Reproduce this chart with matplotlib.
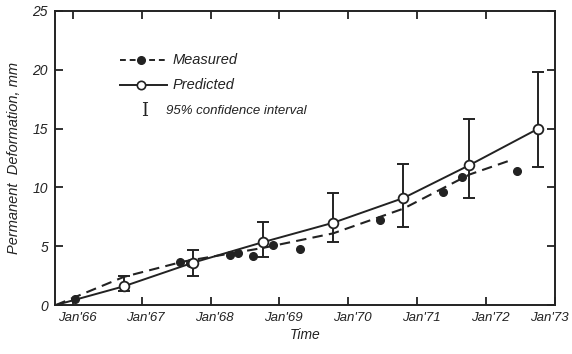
import numpy as np
import matplotlib.pyplot as plt
from matplotlib.transforms import ScaledTranslation

plt.rcParams['font.family'] = ['Liberation Sans', 'DejaVu Sans']

# predicted values (open circles) with 95% confidence limits
pred_t = [1965.75, 1966.74, 1967.74, 1968.76, 1969.78, 1970.80, 1971.76, 1972.76]
pred_y = [0.0, 1.6, 3.6, 5.35, 7.0, 9.1, 11.9, 15.0]
ci_lo = [None, 1.2, 2.5, 4.1, 5.4, 6.6, 9.1, 11.7]
ci_hi = [None, 2.5, 4.7, 7.1, 9.5, 12.0, 15.8, 19.8]

# measured values (filled dots)
meas_t = [1966.03, 1967.55, 1967.70, 1968.28, 1968.40, 1968.62, 1968.90, 1969.30,
          1970.46, 1971.38, 1971.65, 1972.45]
meas_y = [0.5, 3.65, 3.6, 4.3, 4.4, 4.15, 5.1, 4.75, 7.2, 9.65, 10.9, 11.4]

# dashed curve through the measured values
fit_t = [1965.75, 1966.74, 1967.6, 1968.75, 1969.78, 1970.8, 1971.76, 1972.4]
fit_y = [0.0, 2.4, 3.7, 4.85, 6.1, 8.2, 11.1, 12.4]

years = [1966, 1967, 1968, 1969, 1970, 1971, 1972, 1973]
year_labels = ["Jan'66", "Jan'67", "Jan'68", "Jan'69", "Jan'70", "Jan'71", "Jan'72", "Jan'73"]

ink = '#222222'

fig = plt.figure(figsize=(5.72, 3.54), dpi=100)
ax = fig.add_axes([0.096, 0.138, 0.874, 0.831])

ax.plot(fit_t, fit_y, '--', color=ink, lw=1.5, dashes=(5, 3))
ax.plot(meas_t, meas_y, 'o', color=ink, ms=5.5)

ax.plot(pred_t, pred_y, '-', color=ink, lw=1.4)
et = [t for t, lo in zip(pred_t, ci_lo) if lo is not None]
ey = [y for y, lo in zip(pred_y, ci_lo) if lo is not None]
lo = [y - l for y, l in zip(ey, [v for v in ci_lo if v is not None])]
hi = [h - y for y, h in zip(ey, [v for v in ci_hi if v is not None])]
ax.errorbar(et, ey, yerr=[lo, hi], fmt='none', ecolor=ink, elinewidth=1.4,
            capsize=4, capthick=1.4)
ax.plot(et, ey, 'o', mfc='white', mec=ink, mew=1.3, ms=7)

ax.set_xlim(1965.74, 1973.0)
ax.set_ylim(0, 25)
ax.set_xticks(years)
ax.set_xticklabels(year_labels, style='italic', fontsize=9.5)
ax.set_yticks([0, 5, 10, 15, 20, 25])
ax.set_yticklabels(['0', '5', '10', '15', '20', '25'], style='italic', fontsize=10)
ax.tick_params(direction='in', length=6, width=1.3, color=ink, labelcolor=ink,
               top=True, right=True, pad=5)
for s in ax.spines.values():
    s.set_linewidth(1.4)
    s.set_color(ink)

# labels sit a little right of their ticks; keep the last one inside the figure
labs = ax.get_xticklabels()
for lab in labs[:-1]:
    lab.set_transform(lab.get_transform() + ScaledTranslation(3 / 72, 0, fig.dpi_scale_trans))
labs[-1].set_transform(labs[-1].get_transform() + ScaledTranslation(-4 / 72, 0, fig.dpi_scale_trans))

ax.set_xlabel('Time', style='italic', fontsize=10, color=ink, labelpad=3)
ax.set_ylabel('Permanent  Deformation, mm', style='italic', fontsize=10.5, color=ink, labelpad=8)

# hand-drawn style legend
tr = ax.transAxes
ax.plot([0.13, 0.225], [0.835, 0.835], '--', color=ink, lw=1.4, dashes=(3, 2), transform=tr)
ax.plot([0.172], [0.835], 'o', color=ink, ms=5.5, transform=tr)
ax.text(0.235, 0.835, 'Measured', style='italic', fontsize=10.5, color=ink,
        va='center', transform=tr)
ax.plot([0.13, 0.225], [0.75, 0.75], '-', color=ink, lw=1.4, transform=tr)
ax.plot([0.172], [0.75], 'o', mfc='white', mec=ink, mew=1.2, ms=6, transform=tr)
ax.text(0.235, 0.75, 'Predicted', style='italic', fontsize=10.5, color=ink,
        va='center', transform=tr)
ax.text(0.18, 0.66, 'I', fontsize=13, color=ink, va='center', ha='center',
        family='DejaVu Serif', transform=tr)
ax.text(0.223, 0.66, '95% confidence interval', style='italic', fontsize=9.5,
        color=ink, va='center', transform=tr)

fig.savefig('out.png', dpi=100)
